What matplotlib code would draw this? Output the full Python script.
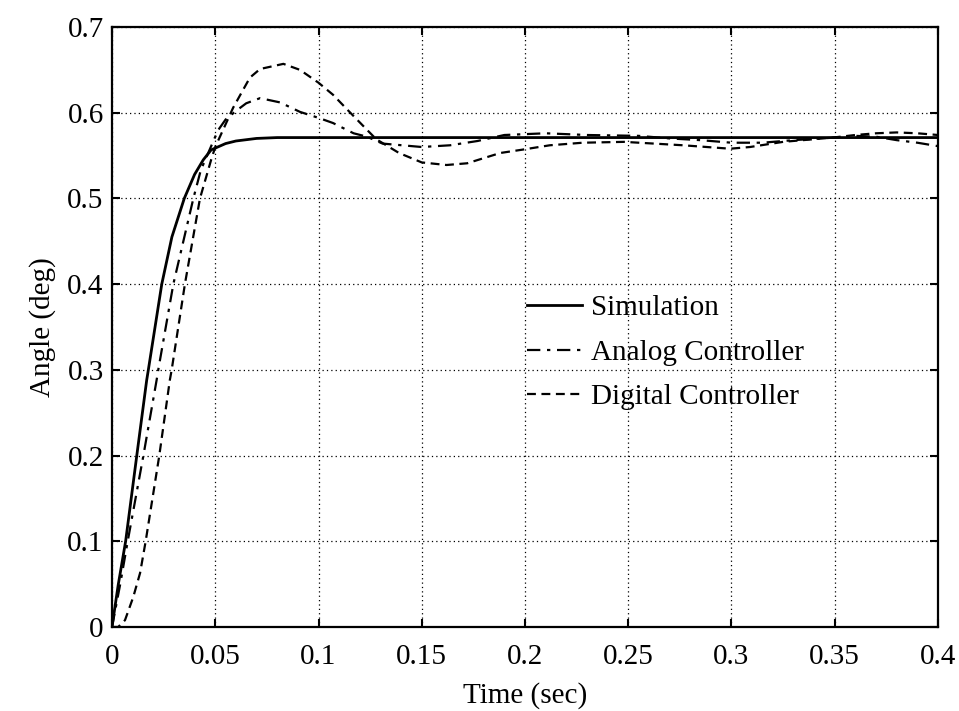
import numpy as np
import matplotlib
matplotlib.use("Agg")
import matplotlib.pyplot as plt

plt.rcParams['font.family'] = ['Liberation Serif', 'DejaVu Serif']

# Datos (tiempo en s, angulo en grados)
t_sim = [0, 0.003, 0.0066, 0.012, 0.0168, 0.0176, 0.0241, 0.029, 0.035, 0.04,
         0.0442, 0.048, 0.055, 0.06, 0.07, 0.08, 0.4]
y_sim = [0, 0.049, 0.10, 0.20, 0.288, 0.30, 0.40, 0.455, 0.50, 0.528,
         0.545, 0.5566, 0.564, 0.567, 0.570, 0.571, 0.571]

t_ana = [0, 0.0039, 0.0076, 0.0152, 0.0216, 0.0224, 0.0297, 0.0394, 0.043, 0.05,
         0.0515, 0.055, 0.06, 0.065, 0.0717, 0.0814, 0.091, 0.1, 0.107, 0.117,
         0.1235, 0.131, 0.15, 0.1637, 0.177, 0.19, 0.21, 0.23, 0.255, 0.27,
         0.285, 0.3, 0.315, 0.33, 0.35, 0.36, 0.37, 0.38, 0.39, 0.4]
y_ana = [0, 0.049, 0.10, 0.20, 0.288, 0.30, 0.40, 0.50, 0.533, 0.572,
         0.58, 0.592, 0.602, 0.611, 0.617, 0.612, 0.601, 0.594, 0.588, 0.576,
         0.572, 0.564, 0.560, 0.562, 0.567, 0.574, 0.576, 0.574, 0.573, 0.570,
         0.568, 0.565, 0.565, 0.568, 0.571, 0.573, 0.572, 0.568, 0.565, 0.561]

t_dig = [0, 0.003, 0.0063, 0.0103, 0.0136, 0.0163, 0.0229, 0.028, 0.0289, 0.0353,
         0.0426, 0.048, 0.05, 0.0587, 0.0668, 0.0717, 0.083, 0.091, 0.1, 0.107,
         0.115, 0.1235, 0.128, 0.139, 0.15, 0.162, 0.172, 0.188, 0.199, 0.212,
         0.228, 0.248, 0.2766, 0.2993, 0.309, 0.325, 0.349, 0.36, 0.37, 0.38,
         0.39, 0.4]
y_dig = [0, 0.0, 0.008, 0.035, 0.063, 0.10, 0.20, 0.288, 0.30, 0.40,
         0.50, 0.545, 0.56, 0.606, 0.641, 0.651, 0.657, 0.650, 0.635, 0.621,
         0.601, 0.580, 0.569, 0.553, 0.542, 0.539, 0.541, 0.553, 0.557, 0.562,
         0.565, 0.566, 0.562, 0.558, 0.560, 0.566, 0.571, 0.574, 0.576, 0.577,
         0.576, 0.574]

xticks = [0, 0.05, 0.1, 0.15, 0.2, 0.25, 0.3, 0.35, 0.4]
xticklabels = ['0', '0.05', '0.1', '0.15', '0.2', '0.25', '0.3', '0.35', '0.4']
yticks = [0, 0.1, 0.2, 0.3, 0.4, 0.5, 0.6, 0.7]
yticklabels = ['0', '0.1', '0.2', '0.3', '0.4', '0.5', '0.6', '0.7']

fs = 21

fig = plt.figure(figsize=(9.59, 7.11), dpi=100)
ax = fig.add_axes([112/959, 1 - 627/711, (938 - 112)/959, (627 - 27)/711])

ax.plot(t_sim, y_sim, color='black', lw=2.0, ls='-', label='Simulation')
ax.plot(t_ana, y_ana, color='black', lw=1.6, ls=(0, (6, 3, 1.5, 3)),
        label='Analog Controller')
ax.plot(t_dig, y_dig, color='black', lw=1.6, ls=(0, (4, 2.5)),
        label='Digital Controller')

ax.set_xlim(0, 0.4)
ax.set_ylim(0, 0.7)
ax.set_xticks(xticks)
ax.set_xticklabels(xticklabels)
ax.set_yticks(yticks)
ax.set_yticklabels(yticklabels)

ax.grid(True, color='black', ls=(0, (1, 2.5)), lw=0.9)
ax.tick_params(direction='in', length=6, width=1.5, top=True, right=True,
               labelsize=fs)
ax.tick_params(axis='x', pad=12)
ax.tick_params(axis='y', pad=6)
for sp in ax.spines.values():
    sp.set_linewidth(1.6)

ax.set_xlabel('Time (sec)', fontsize=fs, labelpad=9)
ax.set_ylabel('Angle (deg)', fontsize=fs, labelpad=8)

ax.legend(loc='upper left', bbox_to_anchor=(527/959, 1 - 295/711),
          bbox_transform=fig.transFigure, frameon=False, fontsize=fs,
          handlelength=1.9, handletextpad=0.3, labelspacing=0.62,
          borderpad=0, borderaxespad=0)

fig.savefig('out.png', dpi=100)
